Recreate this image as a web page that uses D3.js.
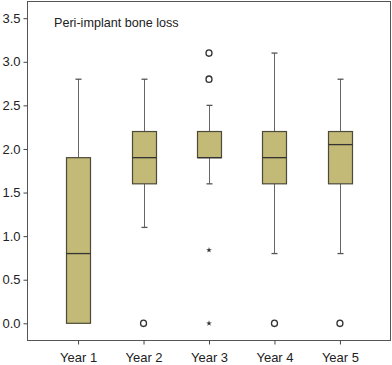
<!DOCTYPE html>
<html><head><meta charset="utf-8">
<script src="https://cdn.jsdelivr.net/npm/d3@7"></script>
<style>body{margin:0;background:#fff}svg{display:block}text{font-family:"Liberation Sans",Arial,sans-serif;fill:#222}</style>
</head><body><svg id="c" width="392" height="365"></svg>
<script>
const categories = ["Year 1","Year 2","Year 3","Year 4","Year 5"];
const whiskerLow  = [0.0, 1.1, 1.6, 0.8, 0.8];
const q1          = [0.0, 1.6, 1.9, 1.6, 1.6];
const median      = [0.8, 1.9, 1.9, 1.9, 2.05];
const q3          = [1.9, 2.2, 2.2, 2.2, 2.2];
const whiskerHigh = [2.8, 2.8, 2.5, 3.1, 2.8];
const outliers = [
  {cat:"Year 2", v:0.0}, {cat:"Year 3", v:3.1}, {cat:"Year 3", v:2.8},
  {cat:"Year 4", v:0.0}, {cat:"Year 5", v:0.0}
];
const extremes = [{cat:"Year 3", v:0.84}, {cat:"Year 3", v:0.0}];
const yTicks = [0,0.5,1,1.5,2,2.5,3,3.5];
const title = "Peri-implant bone loss";

const svg = d3.select("#c");
const m = {l:27, t:1, r:391, b:340};
const x = d3.scalePoint().domain(categories).range([m.l, m.r]).padding(0.78);
const y = d3.scaleLinear().domain([0, 3.5]).range([323.3, 18.2]);
const bw = 24, cw = 6;

// frame
svg.append("rect").attr("x", m.l+0.5).attr("y", m.t+0.5).attr("width", m.r-m.l-1).attr("height", m.b-m.t)
  .attr("fill","none").attr("stroke","#555").attr("stroke-width",1);

// y axis
const ya = svg.append("g").attr("transform",`translate(${m.l+0.5},0)`)
  .call(d3.axisLeft(y).tickValues(yTicks).tickFormat(d3.format(".1f")).tickSize(4).tickPadding(3));
ya.select(".domain").remove();
ya.selectAll("line").attr("stroke","#444");
ya.selectAll("text").style("font-size","13px").attr("fill","#222");

// x axis
const xa = svg.append("g").attr("transform",`translate(0,${m.b+0.5})`)
  .call(d3.axisBottom(x).tickSize(4).tickPadding(8));
xa.select(".domain").remove();
xa.selectAll("line").attr("stroke","#444");
xa.selectAll("text").style("font-size","13px").attr("fill","#222");

// title
svg.append("text").attr("x",54).attr("y",27).style("font-size","12.6px").text(title);

const data = categories.map((c,i)=>({c, lo:whiskerLow[i], q1:q1[i], md:median[i], q3:q3[i], hi:whiskerHigh[i]}));
const g = svg.append("g");
data.forEach(d=>{
  const cx = Math.round(x(d.c))+0.5;
  // whiskers
  g.append("line").attr("x1",cx).attr("x2",cx).attr("y1",y(d.hi)).attr("y2",y(d.q3)).attr("stroke","#666");
  g.append("line").attr("x1",cx).attr("x2",cx).attr("y1",y(d.q1)).attr("y2",y(d.lo)).attr("stroke","#666");
  if (d.hi>d.q3) g.append("line").attr("x1",cx-cw/2).attr("x2",cx+cw/2).attr("y1",y(d.hi)).attr("y2",y(d.hi)).attr("stroke","#555").attr("stroke-width",1.3);
  if (d.lo<d.q1) g.append("line").attr("x1",cx-cw/2).attr("x2",cx+cw/2).attr("y1",y(d.lo)).attr("y2",y(d.lo)).attr("stroke","#555").attr("stroke-width",1.3);
  g.append("rect").attr("x",cx-bw/2).attr("y",y(d.q3)).attr("width",bw).attr("height",Math.max(0,y(d.q1)-y(d.q3)))
    .attr("fill","#c3ba78").attr("stroke","#4d4a3a").attr("stroke-width",1.2);
  g.append("line").attr("x1",cx-bw/2).attr("x2",cx+bw/2).attr("y1",y(d.md)).attr("y2",y(d.md)).attr("stroke","#333").attr("stroke-width",1.3);
});

g.selectAll("ellipse.o").data(outliers).join("ellipse")
  .attr("cx",d=>x(d.cat)).attr("cy",d=>y(d.v)).attr("rx",3).attr("ry",3.2)
  .attr("fill","none").attr("stroke","#333").attr("stroke-width",1.3);

g.selectAll("path.s").data(extremes).join("path")
  .attr("transform",d=>`translate(${x(d.cat)},${y(d.v)})`)
  .attr("d", d3.symbol().type(d3.symbolStar).size(10)).attr("fill","#333");
</script></body></html>
